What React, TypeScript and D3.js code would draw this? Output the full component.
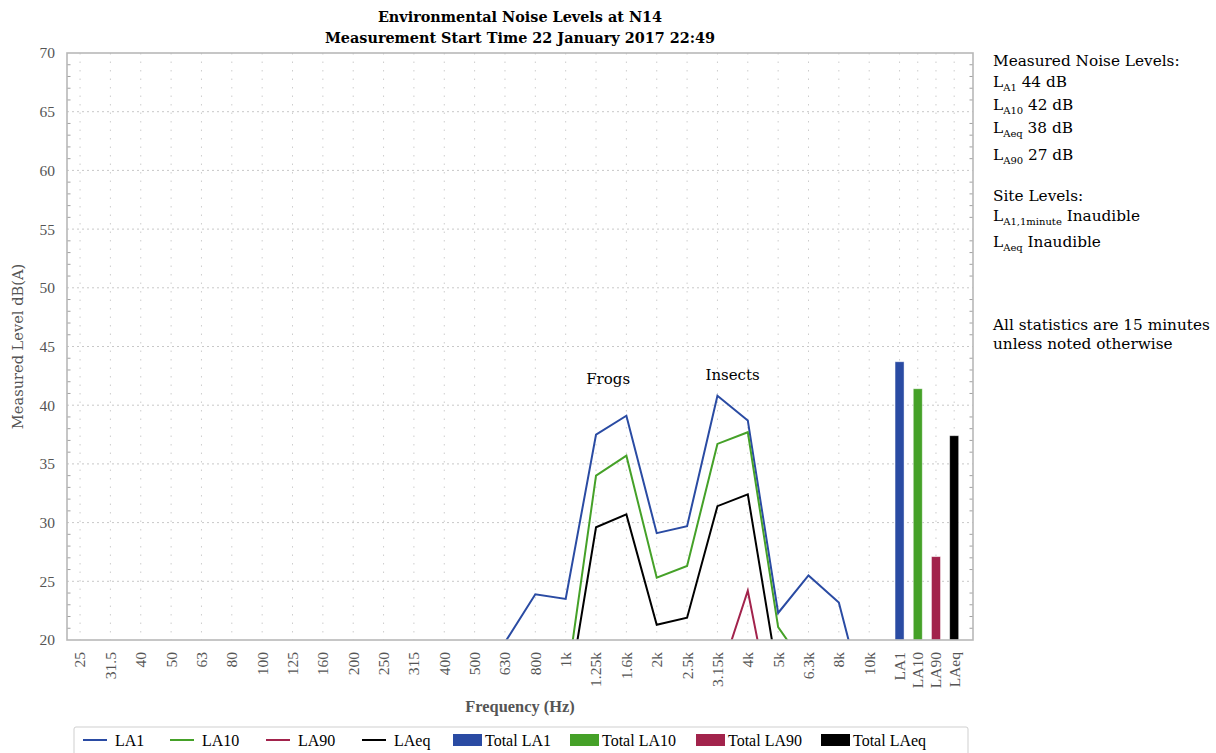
import React from "react";
import * as d3 from "d3";

// Octave-third band centre frequencies (x categories)
const FREQ_LABELS = [
  "25", "31.5", "40", "50", "63", "80", "100", "125", "160", "200", "250", "315",
  "400", "500", "630", "800", "1k", "1.25k", "1.6k", "2k", "2.5k", "3.15k", "4k",
  "5k", "6.3k", "8k", "10k",
];

// Band levels in dB(A); null where the level sits below the 20 dB floor of the chart
const LA1 = [
  null, null, null, null, null, null, null, null, null, null, null, null,
  null, null, 19.8, 23.9, 23.5, 37.5, 39.1, 29.1, 29.7, 40.8, 38.7,
  22.3, 25.5, 23.2, 13.2,
];
const LA10 = [
  null, null, null, null, null, null, null, null, null, null, null, null,
  null, null, null, null, 15.7, 34.0, 35.7, 25.3, 26.3, 36.7, 37.7,
  21.1, 17.4, null, null,
];
const LA90 = [
  null, null, null, null, null, null, null, null, null, null, null, null,
  null, null, null, null, null, null, null, null, null, 16.3, 24.2,
  11.1, null, null, null,
];
const LAEQ = [
  null, null, null, null, null, null, null, null, null, null, null, null,
  null, null, null, null, 13.9, 29.6, 30.7, 21.3, 21.9, 31.4, 32.4,
  16.8, null, null, null,
];

const SERIES_NAMES = ["LA1", "LA10", "LA90", "LAeq"];
const SERIES_VALUES = [LA1, LA10, LA90, LAEQ];
const SERIES_COLORS = ["#2a4ba3", "#45a128", "#a2234c", "#000000"];

// Overall levels shown as bars after the spectrum
const TOTAL_LABELS = ["LA1", "LA10", "LA90", "LAeq"];
const TOTAL_VALUES = [43.7, 41.4, 27.1, 37.4];
const TOTAL_LEGEND = ["Total LA1", "Total LA10", "Total LA90", "Total LAeq"];

const Y_TICKS = [20, 25, 30, 35, 40, 45, 50, 55, 60, 65, 70];

// Text annotations pinned to a band position and level
const ANNOTATIONS = [
  { text: "Frogs", slot: 17.4, level: 41.8 },
  { text: "Insects", slot: 21.5, level: 42.15 },
];

// Side notes
const NOTE_LEVELS = [
  { sub: "A1", text: "44 dB" },
  { sub: "A10", text: "42 dB" },
  { sub: "Aeq", text: "38 dB" },
  { sub: "A90", text: "27 dB" },
];
const SITE_LEVELS = [
  { sub: "A1,1minute", text: "Inaudible" },
  { sub: "Aeq", text: "Inaudible" },
];

const W = 1216;
const H = 753;
const PLOT = { left: 67, right: 973, top: 53, bottom: 640 };

// totals sit on narrower slots after the last band
const TOTAL_START = 27;
const TOTAL_STEP = 0.6;

const SERIF = "'DejaVu Serif', serif";
const TIMES = "'Liberation Serif', 'Times New Roman', serif";

export default function App() {
  const x = d3.scaleLinear().domain([-0.43, 29.42]).range([PLOT.left, PLOT.right]);
  const y = d3.scaleLinear().domain([20, 70]).range([PLOT.bottom, PLOT.top]);

  const totalSlot = (k: number) => TOTAL_START + TOTAL_STEP * k;
  const allSlots = [
    ...FREQ_LABELS.map((_, i) => i),
    ...TOTAL_LABELS.map((_, k) => totalSlot(k)),
  ];
  const allLabels = [...FREQ_LABELS, ...TOTAL_LABELS];

  const line = d3
    .line<number | null>()
    .defined((d) => d !== null)
    .x((_, i) => x(i))
    .y((d) => y(d as number));

  const minorTicks = d3.range(21, 70).filter((v) => v % 5 !== 0);
  const barW = 9;

  const legendX = [83, 170, 266, 362, 453, 570, 696, 821];
  const legendY = 740;

  const notesX = 993;
  const levelBaselines = [87, 110, 133, 160];
  const siteBaselines = [221, 247];

  return (
    <svg
      width={W}
      height={H}
      style={{ position: "absolute", left: 0, top: 0, background: "#fff" }}
    >
      <defs>
        <clipPath id="plot-clip">
          <rect
            x={PLOT.left}
            y={PLOT.top}
            width={PLOT.right - PLOT.left}
            height={PLOT.bottom - PLOT.top}
          />
        </clipPath>
      </defs>

      {/* Title */}
      <g fontFamily={SERIF} fontWeight="bold" fontSize={14.4} textAnchor="middle" fill="#000">
        <text x={(PLOT.left + PLOT.right) / 2} y={22}>
          Environmental Noise Levels at N14
        </text>
        <text x={(PLOT.left + PLOT.right) / 2} y={43}>
          Measurement Start Time 22 January 2017 22:49
        </text>
      </g>

      {/* Grid */}
      <g>
        {Y_TICKS.filter((v) => v > 20 && v < 70).map((v) => (
          <line
            key={"h" + v}
            x1={PLOT.left}
            x2={PLOT.right}
            y1={y(v)}
            y2={y(v)}
            stroke="#c8c8c8"
            strokeDasharray="2,3"
          />
        ))}
        {allSlots.map((s, i) => (
          <line
            key={"v" + i}
            x1={x(s)}
            x2={x(s)}
            y1={PLOT.top}
            y2={PLOT.bottom}
            stroke="#cdcdcd"
            strokeDasharray="1.5,7"
          />
        ))}
      </g>

      {/* Minor ticks on both vertical edges */}
      <g stroke="#a0a0a0">
        {minorTicks.map((v) => (
          <g key={"m" + v}>
            <line x1={PLOT.left} x2={PLOT.left + 3.5} y1={y(v)} y2={y(v)} />
            <line x1={PLOT.right} x2={PLOT.right - 3.5} y1={y(v)} y2={y(v)} />
          </g>
        ))}
      </g>

      {/* Spectrum lines */}
      <g clipPath="url(#plot-clip)" fill="none" strokeWidth={2} strokeLinejoin="miter">
        {SERIES_VALUES.map((vals, i) => (
          <path key={SERIES_NAMES[i]} d={line(vals) || ""} stroke={SERIES_COLORS[i]} />
        ))}
      </g>

      {/* Total level bars */}
      <g>
        {TOTAL_VALUES.map((v, k) => (
          <rect
            key={TOTAL_LABELS[k]}
            x={x(totalSlot(k)) - barW / 2}
            y={y(v)}
            width={barW}
            height={y(20) - y(v)}
            fill={SERIES_COLORS[k]}
            stroke="rgba(255,255,255,0.55)"
            strokeWidth={0.8}
          />
        ))}
      </g>

      {/* Plot frame */}
      <rect
        x={PLOT.left}
        y={PLOT.top}
        width={PLOT.right - PLOT.left}
        height={PLOT.bottom - PLOT.top}
        fill="none"
        stroke="#b8b8b8"
        strokeWidth={1.6}
      />

      {/* Annotations */}
      <g fontFamily={SERIF} fontSize={15} textAnchor="middle" fill="#000">
        {ANNOTATIONS.map((a) => (
          <text key={a.text} x={x(a.slot)} y={y(a.level)}>
            {a.text}
          </text>
        ))}
      </g>

      {/* Y axis labels */}
      <g fontFamily={TIMES} fontSize={15.5} fill="#555" textAnchor="end">
        {Y_TICKS.map((v) => (
          <text key={"yl" + v} x={PLOT.left - 12} y={y(v)} dy="0.35em">
            {v}
          </text>
        ))}
      </g>
      <text
        transform={`translate(23,${(PLOT.top + PLOT.bottom) / 2}) rotate(-90)`}
        textAnchor="middle"
        fontFamily={SERIF}
        fontSize={14.6}
        fill="#555"
      >
        Measured Level dB(A)
      </text>

      {/* X axis labels */}
      <g fontFamily={TIMES} fontSize={15.5} fill="#555" textAnchor="end">
        {allLabels.map((lab, i) => (
          <text
            key={"xl" + i}
            transform={`translate(${x(allSlots[i])},${PLOT.bottom + 12}) rotate(-90)`}
            dy="0.35em"
          >
            {lab}
          </text>
        ))}
      </g>
      <text
        x={(PLOT.left + PLOT.right) / 2}
        y={712}
        textAnchor="middle"
        fontFamily={TIMES}
        fontWeight="bold"
        fontSize={16.4}
        fill="#555"
      >
        Frequency (Hz)
      </text>

      {/* Legend */}
      <rect x={74} y={727} width={894} height={40} rx={2} fill="#fff" stroke="#cfcfcf" />
      <g fontFamily={TIMES} fontSize={16} fill="#000">
        {SERIES_NAMES.map((n, i) => (
          <g key={"ll" + n}>
            <line
              x1={legendX[i]}
              x2={legendX[i] + 24}
              y1={legendY}
              y2={legendY}
              stroke={SERIES_COLORS[i]}
              strokeWidth={2}
            />
            <text x={legendX[i] + 32} y={legendY + 6}>
              {n}
            </text>
          </g>
        ))}
        {TOTAL_LEGEND.map((n, k) => (
          <g key={"lb" + n}>
            <rect
              x={legendX[4 + k]}
              y={legendY - 6}
              width={29}
              height={12}
              fill={SERIES_COLORS[k]}
            />
            <text x={legendX[4 + k] + 32} y={legendY + 6}>
              {n}
            </text>
          </g>
        ))}
      </g>

      {/* Side notes */}
      <g fontFamily={SERIF} fontSize={15.3} fill="#000">
        <text x={notesX} y={66}>Measured Noise Levels:</text>
        {NOTE_LEVELS.map((n, i) => (
          <text key={"nl" + i} x={notesX} y={levelBaselines[i]}>
            L
            <tspan fontSize={10} dy={4}>{n.sub}</tspan>
            <tspan dy={-4}>{" " + n.text}</tspan>
          </text>
        ))}
        <text x={notesX} y={201}>Site Levels:</text>
        {SITE_LEVELS.map((n, i) => (
          <text key={"sl" + i} x={notesX} y={siteBaselines[i]}>
            L
            <tspan fontSize={10} dy={4}>{n.sub}</tspan>
            <tspan dy={-4}>{" " + n.text}</tspan>
          </text>
        ))}
        <text x={notesX} y={330}>All statistics are 15 minutes</text>
        <text x={notesX} y={349}>unless noted otherwise</text>
      </g>
    </svg>
  );
}
